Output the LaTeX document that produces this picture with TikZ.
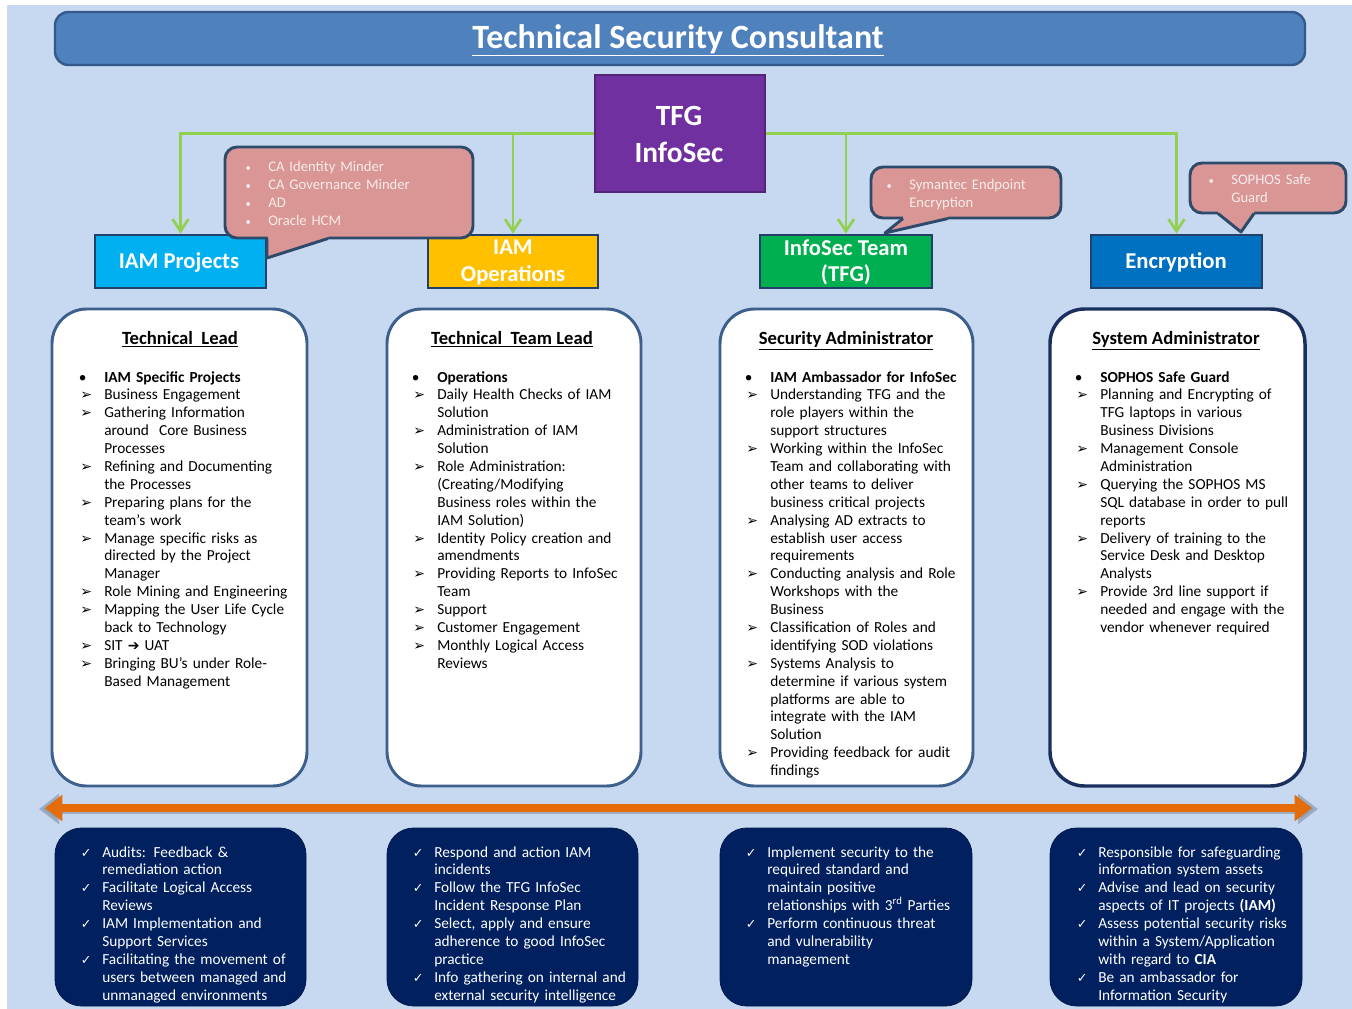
\documentclass[tikz,border=0pt]{standalone}
\usepackage{fontspec}
\setmainfont{Carlito}
\newfontfamily\symf{DejaVu Sans}
\usetikzlibrary{arrows.meta,fit}
\definecolor{bgblue}{HTML}{C6D9F0}
\definecolor{titlefill}{HTML}{4F81BD}
\definecolor{titledraw}{HTML}{34598A}
\definecolor{tfgpurple}{HTML}{7030A0}
\definecolor{linegreen}{HTML}{92D050}
\definecolor{iamproj}{HTML}{00B0F0}
\definecolor{iamops}{HTML}{FFC000}
\definecolor{infosec}{HTML}{00B050}
\definecolor{encblue}{HTML}{0070C0}
\definecolor{catdraw}{HTML}{22406A}
\definecolor{callfill}{HTML}{D99694}
\definecolor{calldraw}{HTML}{2E4A6B}
\definecolor{calltext}{HTML}{F6ECEC}
\definecolor{coldraw}{HTML}{3D5F8C}
\definecolor{coldrawdark}{HTML}{1B2F5E}
\definecolor{navy}{HTML}{002060}
\definecolor{arroworange}{HTML}{E46C0A}
\definecolor{arrowshadow}{HTML}{8C9AAE}
\newcommand\Bu{\leavevmode\llap{\makebox[19pt][l]{\textbullet}}}
\newcommand\Sb{\leavevmode\llap{\makebox[17pt][l]{\fontsize{8}{8}\selectfont\textbullet}}}
\newcommand\Ar{\leavevmode\llap{\makebox[18pt][l]{\raisebox{0pt}{\symf\fontsize{10.5}{10.5}\selectfont ➢}}}}
\newcommand\Ck{\leavevmode\llap{\makebox[16pt][l]{\symf\fontsize{9.5}{9.5}\selectfont ✓}}}
\begin{document}
\begin{tikzpicture}[x=0.75pt,y=-0.75pt,
  titlebar/.style={draw=titledraw, line width=1.8pt, fill=titlefill, rounded corners=10pt, inner sep=0pt},
  tfgbox/.style={draw=tfgpurple!75!black, line width=1pt, fill=tfgpurple, inner sep=0pt},
  catbox/.style={draw=catdraw, line width=2.2pt, inner sep=0pt},
  cattext/.style={text=white, font=\fontsize{17}{20}\selectfont\bfseries, align=center, inner sep=0pt},
  callbox/.style={draw=calldraw, line width=2.2pt, fill=callfill, rounded corners=9pt, inner sep=0pt},
  calltail/.style={draw=calldraw, line width=2.2pt, line join=round},
  calltxt/.style={text=calltext, font=\fontsize{11}{13.3}\selectfont, text width=200pt, align=left, inner sep=0pt, anchor=base west},
  colbox/.style={draw=coldraw, line width=2.2pt, fill=white, rounded corners=26pt, inner sep=0pt},
  head/.style={font=\fontsize{14}{16}\selectfont\bfseries, anchor=base, inner sep=0pt},
  listtxt/.style={font=\fontsize{11.5}{13.42}\selectfont, text width=250pt, align=left, inner sep=0pt, anchor=base west},
  botbox/.style={fill=navy, draw=navy!80!black, line width=0.6pt, rounded corners=20pt, inner sep=0pt},
  bottxt/.style={text=white, font=\fontsize{11.5}{13.42}\selectfont, text width=250pt, align=left, inner sep=0pt, anchor=base west},
  greenarrow/.style={draw=linegreen, line width=2pt, -{Straight Barb[length=9pt,width=12pt,line width=2pt]}}
]
\useasboundingbox (0,0) rectangle (1352,1009);
\fill[white] (0,0) rectangle (1352,1009);
\fill[bgblue] (7,5) rectangle (1352,1009);

% title
\node[titlebar, fit={(55,12) (1305,65)}] (title) {};
\node[text=white, font=\fontsize{25.5}{30}\selectfont\bfseries, anchor=base, inner sep=0pt] (titletext) at (678,48.5) {\underline{Technical Security Consultant}};

% category boxes
\node[catbox, fill=iamproj, fit={(95,235) (266,288)}] (iamproj) {};
\node[catbox, fill=iamops, fit={(428,235) (598,288)}] (iamops) {};
\node[catbox, fill=infosec, fit={(760,235) (932,288)}] (infosec) {};
\node[catbox, fill=encblue, fit={(1091,235) (1262,288)}] (enc) {};

% TFG box and connectors
\node[tfgbox, fit={(595,75) (765,192)}] (tfg) {};
\draw[greenarrow] (tfg.west) -| (iamproj.north);
\draw[greenarrow] (tfg.west) -| (iamops.north);
\draw[greenarrow] (tfg.east) -| (infosec.north);
\draw[greenarrow] (tfg.east) -| (enc.north);
\node[tfgbox, fit={(595,75) (765,192)}] (tfgtop) {};
\node[text=white, font=\fontsize{22}{27.7}\selectfont\bfseries, align=center, inner sep=0pt] (tfgtext) at (679,134.5) {TFG\\InfoSec};

\node[cattext] (iamprojtext) at (179,262) {IAM Projects};
\node[cattext] (iamopstext) at (513,262.5) {IAM\\Operations};
\node[cattext] (infosectext) at (846,262.5) {InfoSec Team\\(TFG)};
\node[cattext] (enctext) at (1176,262) {Encryption};

% callout 1
\node[callbox, fit={(225,147) (473,238)}] (call1) {};
\fill[callfill] (268,234) -- (329,234) -- (328,238) -- (267,258) -- cycle;
\draw[calltail] (328,238.5) -- (267,258) -- (267,238.5);
\node[calltxt] (call1text) at (268,172) {\Sb CA Identity Minder\\ \Sb CA Governance Minder\\ \Sb AD\\ \Sb Oracle HCM};

% callout 2
\node[callbox, fit={(871,167) (1061,218)}] (call2) {};
\fill[callfill] (904,214) -- (948,214) -- (948,218) -- (885,233) -- (903,218) -- cycle;
\draw[calltail] (903,218.5) -- (885,233) -- (948,218.5);
\node[calltxt] (call2text) at (909,190) {\Sb Symantec Endpoint\\ Encryption};

% callout 3
\node[callbox, fit={(1190,163) (1346,213)}] (call3) {};
\fill[callfill] (1219,209) -- (1254,209) -- (1254,213) -- (1241,232) -- (1218,213) -- cycle;
\draw[calltail] (1218,213.5) -- (1241,232) -- (1254,213.5);
\node[calltxt] (call3text) at (1231,185) {\Sb SOPHOS Safe\\ Guard};

% column boxes
\node[colbox, fit={(52,309) (307,786)}] (col1) {};
\node[colbox, fit={(387,309) (641,786)}] (col2) {};
\node[colbox, fit={(720,309) (973,786)}] (col3) {};
\node[colbox, draw=coldrawdark, line width=2.6pt, fit={(1050,309) (1305,786)}] (col4) {};

\node[head] (head1) at (180,344) {\underline{Technical\ \ Lead}};
\node[head] (head2) at (512,344) {\underline{Technical\ \ Team Lead}};
\node[head] (head3) at (846,344) {\underline{Security Administrator}};
\node[head] (head4) at (1176,344) {\underline{System Administrator}};

\node[listtxt] (list1) at (104,382) {\Bu\textbf{IAM Specific Projects}\\
\Ar Business Engagement\\
\Ar Gathering Information\\
around\ \ Core Business\\
Processes\\
\Ar Refining and Documenting\\
the Processes\\
\Ar Preparing plans for the\\
team’s work\\
\Ar Manage specific risks as\\
directed by the Project\\
Manager\\
\Ar Role Mining and Engineering\\
\Ar Mapping the User Life Cycle\\
back to Technology\\
\Ar SIT {\symf\fontsize{10.5}{10.5}\selectfont ➔} UAT\\
\Ar Bringing BU’s under Role-\\
Based Management};

\node[listtxt] (list2) at (437,382) {\Bu\textbf{Operations}\\
\Ar Daily Health Checks of IAM\\
Solution\\
\Ar Administration of IAM\\
Solution\\
\Ar Role Administration:\\
(Creating/Modifying\\
Business roles within the\\
IAM Solution)\\
\Ar Identity Policy creation and\\
amendments\\
\Ar Providing Reports to InfoSec\\
Team\\
\Ar Support\\
\Ar Customer Engagement\\
\Ar Monthly Logical Access\\
Reviews};

\node[listtxt] (list3) at (770,382) {\Bu\textbf{IAM Ambassador for InfoSec}\\
\Ar Understanding TFG and the\\
role players within the\\
support structures\\
\Ar Working within the InfoSec\\
Team and collaborating with\\
other teams to deliver\\
business critical projects\\
\Ar Analysing AD extracts to\\
establish user access\\
requirements\\
\Ar Conducting analysis and Role\\
Workshops with the\\
Business\\
\Ar Classification of Roles and\\
identifying SOD violations\\
\Ar Systems Analysis to\\
determine if various system\\
platforms are able to\\
integrate with the IAM\\
Solution\\
\Ar Providing feedback for audit\\
findings};

\node[listtxt] (list4) at (1100,382) {\Bu\textbf{SOPHOS Safe Guard}\\
\Ar Planning and Encrypting of\\
TFG laptops in various\\
Business Divisions\\
\Ar Management Console\\
Administration\\
\Ar Querying the SOPHOS MS\\
SQL database in order to pull\\
reports\\
\Ar Delivery of training to the\\
Service Desk and Desktop\\
Analysts\\
\Ar Provide 3rd line support if\\
needed and engage with the\\
vendor whenever required};

% orange double arrow
\coordinate (shL) at (39,809);
\coordinate (shR) at (1318,809);
\draw[arrowshadow, opacity=0.7, line width=7pt, {Triangle[length=15pt,width=22pt]}-{Triangle[length=15pt,width=22pt]}] (shL) -- (shR);
\coordinate (arrL) at (45,808);
\coordinate (arrR) at (1312,808);
\draw[arroworange, line width=6pt, {Triangle[length=13pt,width=19pt]}-{Triangle[length=13pt,width=19pt]}] (arrL) -- (arrR);

% bottom boxes
\node[botbox, fit={(55,828) (306,1006)}] (bot1) {};
\node[botbox, fit={(387,828) (638,1006)}] (bot2) {};
\node[botbox, fit={(720,828) (972,1006)}] (bot3) {};
\node[botbox, fit={(1050,828) (1302,1006)}] (bot4) {};

\node[bottxt] (bot1text) at (102,857) {\Ck Audits: Feedback \&\\
remediation action\\
\Ck Facilitate Logical Access\\
Reviews\\
\Ck IAM Implementation and\\
Support Services\\
\Ck Facilitating the movement of\\
users between managed and\\
unmanaged environments};

\node[bottxt] (bot2text) at (434,857) {\Ck Respond and action IAM\\
incidents\\
\Ck Follow the TFG InfoSec\\
Incident Response Plan\\
\Ck Select, apply and ensure\\
adherence to good InfoSec\\
practice\\
\Ck Info gathering on internal and\\
external security intelligence};

\node[bottxt] (bot3text) at (767,857) {\Ck Implement security to the\\
required standard and\\
maintain positive\\
relationships with 3\textsuperscript{rd} Parties\\
\Ck Perform continuous threat\\
and vulnerability\\
management};

\node[bottxt] (bot4text) at (1098,857) {\Ck Responsible for safeguarding\\
information system assets\\
\Ck Advise and lead on security\\
aspects of IT projects \textbf{(IAM)}\\
\Ck Assess potential security risks\\
within a System/Application\\
with regard to \textbf{CIA}\\
\Ck Be an ambassador for\\
Information Security};
\end{tikzpicture}
\end{document}
